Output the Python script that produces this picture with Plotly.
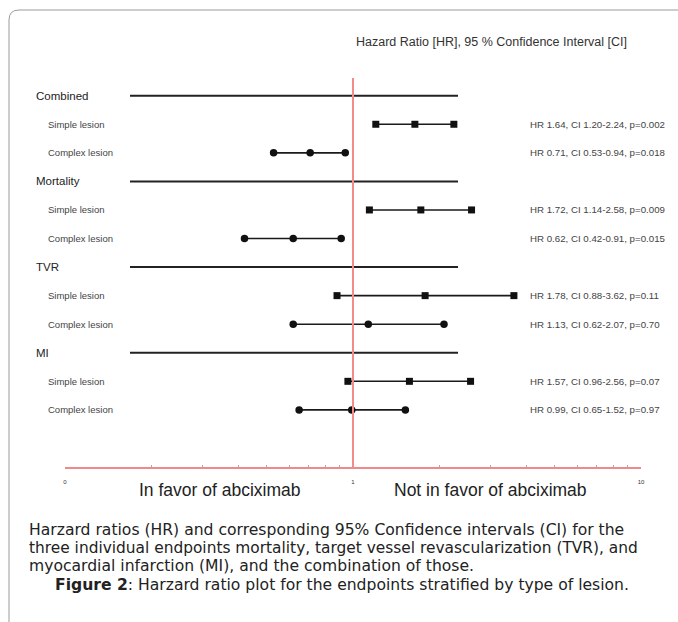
import plotly.graph_objects as go

# ---------------- data ----------------
groups = ["Combined", "Mortality", "TVR", "MI"]
lesions = ["Simple lesion", "Complex lesion"]
hr = [1.64, 0.71, 1.72, 0.62, 1.78, 1.13, 1.57, 0.99]
ci_low = [1.20, 0.53, 1.14, 0.42, 0.88, 0.62, 0.96, 0.65]
ci_high = [2.24, 0.94, 2.58, 0.91, 3.62, 2.07, 2.56, 1.52]
p_values = ["0.002", "0.018", "0.009", "0.015", "0.11", "0.70", "0.07", "0.97"]
tick_vals = [0.1, 0.2, 0.3, 0.4, 0.5, 0.6, 0.7, 0.8, 0.9, 1,
             2, 3, 4, 5, 6, 7, 8, 9, 10]
tick_text = ["0", "", "", "", "", "", "", "", "", "1",
             "", "", "", "", "", "", "", "", "10"]

# ---------------- layout helpers ----------------
W, H = 678, 622
L, R, T, B = 65, 37, 78, 155
PW, PH = W - L - R, H - T - B
FONT = "Liberation Sans, Arial"
CAP_FONT = "DejaVu Sans, Liberation Sans, Arial"


def px(x):
    return (x - L) / PW


def py(y):
    return (H - B - y) / PH


fig = go.Figure()

rows_simple, rows_complex = [], []
xs_simple, xs_complex = [], []
for gi, g in enumerate(groups):
    for li in range(2):
        k = gi * 2 + li
        row = gi * 3 + 1 + li
        xs = [ci_low[k], hr[k], ci_high[k], None]
        ys = [row, row, row, None]
        if li == 0:
            xs_simple += xs
            rows_simple += ys
        else:
            xs_complex += xs
            rows_complex += ys

line_style = dict(color="#1a1a1a", width=1.6)
fig.add_trace(go.Scatter(x=xs_simple, y=rows_simple, mode="lines+markers",
                         line=line_style,
                         marker=dict(symbol="square", size=7, color="#111"),
                         showlegend=False, hoverinfo="skip"))
fig.add_trace(go.Scatter(x=xs_complex, y=rows_complex, mode="lines+markers",
                         line=line_style,
                         marker=dict(symbol="circle", size=7.5, color="#111"),
                         showlegend=False, hoverinfo="skip"))

annotations = []
shapes = []
for gi, g in enumerate(groups):
    hrow = gi * 3
    annotations.append(dict(x=px(34), y=hrow, xref="paper", yref="y",
                            text=g, showarrow=False, xanchor="left",
                            font=dict(family=FONT, size=11.5, color="#222")))
    shapes.append(dict(type="line", xref="paper", yref="y",
                       x0=px(130), x1=px(458), y0=hrow, y1=hrow,
                       line=dict(color="#222", width=2)))
    for li, les in enumerate(lesions):
        k = gi * 2 + li
        row = hrow + 1 + li
        annotations.append(dict(x=px(46), y=row, xref="paper", yref="y",
                                text=les, showarrow=False, xanchor="left",
                                font=dict(family=FONT, size=9.5, color="#444")))
        annotations.append(dict(
            x=px(528), y=row, xref="paper", yref="y",
            text=f"HR {hr[k]:.2f}, CI {ci_low[k]:.2f}-{ci_high[k]:.2f}, p={p_values[k]}",
            showarrow=False, xanchor="left",
            font=dict(family=FONT, size=9.7, color="#444")))

# red reference line at HR = 1
shapes.append(dict(type="line", xref="x", yref="paper", x0=1, x1=1, y0=0, y1=1,
                   line=dict(color="#f28c8c", width=2)))

# title
annotations.append(dict(x=px(491), y=py(42), xref="paper", yref="paper",
                        text="Hazard Ratio [HR], 95 % Confidence Interval [CI]",
                        showarrow=False, xanchor="center", yanchor="middle",
                        font=dict(family=FONT, size=12.5, color="#333")))

# favour labels
annotations.append(dict(x=px(219), y=py(490), xref="paper", yref="paper",
                        text="In favor of abciximab", showarrow=False,
                        xanchor="center", yanchor="middle",
                        font=dict(family=FONT, size=17.5, color="#222")))
annotations.append(dict(x=px(490), y=py(490), xref="paper", yref="paper",
                        text="Not in favor of abciximab", showarrow=False,
                        xanchor="center", yanchor="middle",
                        font=dict(family=FONT, size=17.5, color="#222")))

# caption
caption_lines = [
    "Harzard ratios (HR) and corresponding 95% Confidence intervals (CI) for the",
    "three individual endpoints mortality, target vessel revascularization (TVR), and",
    "myocardial infarction (MI), and the combination of those.",
]
caption_sizes = [15.6, 15.4, 15.6]
for line, yy, sz in zip(caption_lines, [530, 548, 566], caption_sizes):
    annotations.append(dict(x=px(27), y=py(yy), xref="paper", yref="paper",
                            text=line, showarrow=False, xanchor="left", yanchor="middle",
                            font=dict(family=CAP_FONT, size=sz, color="#222")))
annotations.append(dict(x=px(342), y=py(585), xref="paper", yref="paper",
                        text="<b>Figure 2</b>: Harzard ratio plot for the endpoints stratified by type of lesion.",
                        showarrow=False, xanchor="center", yanchor="middle",
                        font=dict(family=CAP_FONT, size=15.6, color="#222")))

# frame with rounded top-left corner
fx0, fy0, rad = 9, 10, 10
path = (f"M {px(fx0)},{py(H + 5)} L {px(fx0)},{py(fy0 + rad)} "
        f"Q {px(fx0)},{py(fy0)} {px(fx0 + rad)},{py(fy0)} L {px(W + 5)},{py(fy0)}")
shapes.append(dict(type="path", xref="paper", yref="paper", path=path,
                   line=dict(color="#9a9a9a", width=1)))

fig.update_layout(
    width=W, height=H,
    margin=dict(l=L, r=R, t=T, b=B, pad=0),
    paper_bgcolor="white", plot_bgcolor="white",
    xaxis=dict(type="log", range=[-1, 1], showgrid=False, zeroline=False,
               showline=True, linecolor="#f08a8a", linewidth=1.5,
               tickvals=tick_vals, ticktext=tick_text,
               ticks="inside", ticklen=2, tickcolor="#c8a0a0", tickwidth=1,
               tickfont=dict(family=FONT, size=6, color="#333"),
               ticklabelstandoff=8),
    yaxis=dict(range=[13, -0.62], visible=False, showgrid=False, zeroline=False),
    annotations=annotations,
    shapes=shapes,
)

fig.write_html("out.html")
